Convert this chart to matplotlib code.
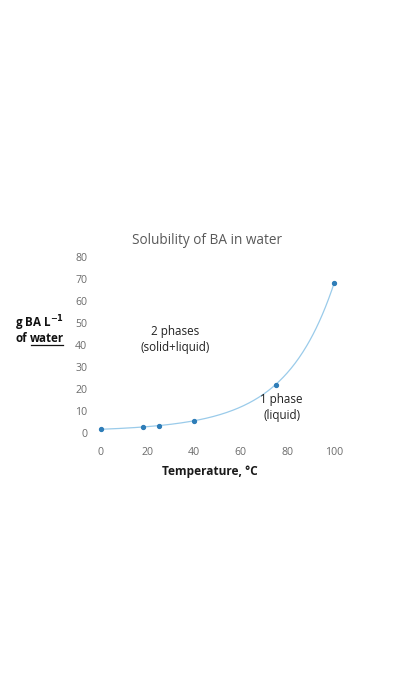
import numpy as np
import matplotlib
matplotlib.use("Agg")
import matplotlib.pyplot as plt
from matplotlib.lines import Line2D

plt.rcParams['font.family'] = ['Open Sans', 'DejaVu Sans']

temps = [0, 18, 25, 40, 75, 100]
solubility = [1.7, 2.7, 3.4, 5.6, 22, 68]
x_ticks = [0, 20, 40, 60, 80, 100]
y_ticks = [0, 10, 20, 30, 40, 50, 60, 70, 80]
title = "Solubility of BA in water"
x_label = "Temperature, \u00b0C"

W_PX, H_PX = 394, 700
fig = plt.figure(figsize=(3.94, 7.0), dpi=100)
ax = fig.add_axes([101 / W_PX, 1 - 433 / H_PX, 233 / W_PX, 176 / H_PX])

# smooth trend curve (fit in log space)
coef = np.polyfit(temps, np.log(solubility), 3)
xs = np.linspace(0, 100, 300)
ax.plot(xs, np.exp(np.polyval(coef, xs)), color='#9ACBEA', lw=0.9, clip_on=False)
ax.plot(temps, solubility, 'o', color='#2E7DB8', ms=2.8, clip_on=False, zorder=3)

ax.set_xlim(0, 100)
ax.set_ylim(0, 80)
ax.set_xticks(x_ticks)
ax.set_yticks(y_ticks)
ax.tick_params(length=0, labelsize=7.6, labelcolor='#6b6b6b')
ax.tick_params(axis='x', pad=10)
ax.tick_params(axis='y', pad=10)
for s in ax.spines.values():
    s.set_visible(False)

fig.text(207 / W_PX, 1 - 240 / H_PX, title, ha='center', va='center',
         fontsize=9.8, color='#595959')
fig.text(210 / W_PX, 1 - 472 / H_PX, x_label, ha='center', va='center',
         fontsize=8.6, fontweight='bold', color='#1a1a1a')

ax.text(32, 42.5, "2 phases\n(solid+liquid)", ha='center', va='center',
        fontsize=8.4, color='#222222', linespacing=1.35)
ax.text(77.5, 11.5, "1 phase\n(liquid)", ha='center', va='center',
        fontsize=8.4, color='#222222', linespacing=1.35)

fs = 8.4
fig.text(64 / W_PX, 1 - 323 / H_PX, "g BA L$^{\\mathbf{-1}}$", ha='right', va='center',
         fontsize=fs, fontweight='bold', color='#111111')
t2 = fig.text(64 / W_PX, 1 - 339 / H_PX, "water", ha='right', va='center',
              fontsize=fs, fontweight='bold', color='#111111')
fig.canvas.draw()
r = fig.canvas.get_renderer()
W, H = fig.bbox.width, fig.bbox.height
bb2 = t2.get_window_extent(r)
fig.text((bb2.x0 - 3) / W, 1 - 339 / H_PX, "of", ha='right', va='center',
         fontsize=fs, fontweight='bold', color='#111111')
yline = (bb2.y0 + 0.5) / H
fig.add_artist(Line2D([(bb2.x0 + 1) / W, (bb2.x1 - 1) / W], [yline, yline],
                      transform=fig.transFigure, color='#111111', lw=0.9))

fig.savefig("out.png", dpi=100)
